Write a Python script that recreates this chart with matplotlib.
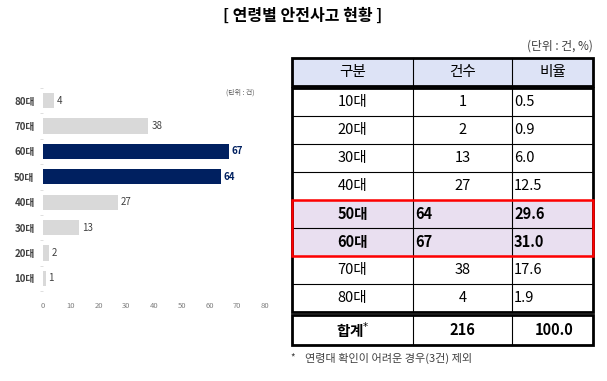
import numpy as np
import matplotlib.pyplot as plt
from matplotlib.patches import Rectangle

plt.rcParams['font.family'] = ['Noto Sans CJK KR', 'DejaVu Sans']

# data
ages = ['10대', '20대', '30대', '40대', '50대', '60대', '70대', '80대']
counts = [1, 2, 13, 27, 64, 67, 38, 4]
ratios = ['0.5', '0.9', '6.0', '12.5', '29.6', '31.0', '17.6', '1.9']
highlight = ['50대', '60대']
total_count = 216
total_ratio = '100.0'
x_ticks = [0, 10, 20, 30, 40, 50, 60, 70, 80]

W, H = 607, 381
fig = plt.figure(figsize=(W / 100, H / 100), dpi=100)

# %% bar chart
ax = fig.add_axes([43 / W, 1 - 291 / H, 222 / W, 203 / H])
y = np.arange(len(ages))
colors = ['#002060' if a in highlight else '#d9d9d9' for a in ages]
ax.barh(y, counts, height=0.6, color=colors)
for yi, c, a in zip(y, counts, ages):
    if a in highlight:
        ax.text(c + 1, yi, str(c), va='center', ha='left', fontsize=7,
                color='#002060', fontweight='bold')
    else:
        ax.text(c + 1, yi, str(c), va='center', ha='left', fontsize=7,
                color='#404040')
ax.set_xlim(0, 80)
ax.set_ylim(-0.5, len(ages) - 0.5)
ax.set_xticks(x_ticks)
ax.set_xticklabels([str(t) for t in x_ticks], fontsize=5.5, color='#7f7f7f')
ax.set_yticks(y)
ax.set_yticklabels(ages, fontsize=7, color='#404040', fontweight='bold')
ax.set_yticks(np.arange(len(ages) + 1) - 0.5, minor=True)
ax.tick_params(axis='y', which='major', length=0, pad=6)
ax.tick_params(axis='y', which='minor', length=2, color='#d9d9d9')
ax.tick_params(axis='x', length=0, pad=8)
for s in ax.spines.values():
    s.set_visible(False)
ax.text(0.89, 0.975, '(단위 : 건)', transform=ax.transAxes, fontsize=5,
        color='#595959', ha='center', va='center')

# %% table
tx = fig.add_axes([0, 0, 1, 1])
tx.set_xlim(0, W)
tx.set_ylim(H, 0)
tx.axis('off')

fig.text(303 / W, 1 - 16 / H, '[ 연령별 안전사고 현황 ]', ha='center', va='center',
         fontsize=11.5, fontweight='bold', color='black')
tx.text(593, 46, '(단위 : 건, %)', ha='right', va='center', fontsize=8.5, color='#404040')

x0, x1, x2, x3 = 292, 413, 512, 593
# header
tx.add_patch(Rectangle((x0, 58), x3 - x0, 28, facecolor='#dde3f6', edgecolor='none'))
for xa, xb, lab in [(x0, x1, '구분'), (x1, x2, '건수'), (x2, x3, '비율')]:
    tx.text((xa + xb) / 2, 72, lab, ha='center', va='center', fontsize=10.5)
tx.add_patch(Rectangle((x0, 58), x3 - x0, 28, facecolor='none', edgecolor='black', lw=2))

row_top = 88
row_h = 28
for i, (a, c, r) in enumerate(zip(ages, counts, ratios)):
    yt = row_top + i * row_h
    yc = yt + row_h / 2
    if a in highlight:
        tx.add_patch(Rectangle((x0, yt), x3 - x0, row_h, facecolor='#e9dff0', edgecolor='none'))
        tx.text((x0 + x1) / 2, yc, a, ha='center', va='center', fontsize=10.5, fontweight='bold')
        tx.text(x1 + 2, yc, str(c), ha='left', va='center', fontsize=10.5, fontweight='bold')
        tx.text(x2 + 2, yc, r, ha='left', va='center', fontsize=10.5, fontweight='bold')
    else:
        tx.text((x0 + x1) / 2, yc, a, ha='center', va='center', fontsize=10.5)
        tx.text((x1 + x2) / 2, yc, str(c), ha='center', va='center', fontsize=10.5)
        tx.text(x2 + 2, yc, r, ha='left', va='center', fontsize=10.5)
    if i > 0:
        tx.plot([x0, x3], [yt, yt], color='black', lw=0.8)
body_bot = row_top + len(ages) * row_h
for xv in (x1, x2):
    tx.plot([xv, xv], [58, body_bot], color='black', lw=0.8)
tx.add_patch(Rectangle((x0, row_top), x3 - x0, body_bot - row_top,
                       facecolor='none', edgecolor='black', lw=2))
hi_idx = [ages.index(a) for a in highlight]
tx.add_patch(Rectangle((x0, row_top + min(hi_idx) * row_h), x3 - x0,
                       len(hi_idx) * row_h, facecolor='none', edgecolor='#ff0000', lw=1.8,
                       zorder=5))

# total row
tt = body_bot + 3
tb = 345
for xv in (x1, x2):
    tx.plot([xv, xv], [tt, tb], color='black', lw=0.8)
tx.add_patch(Rectangle((x0, tt), x3 - x0, tb - tt, facecolor='none', edgecolor='black', lw=2))
tc = (tt + tb) / 2
tx.text((x0 + x1) / 2, tc, '합계$^{*}$', ha='center', va='center', fontsize=10.5, fontweight='bold')
tx.text((x1 + x2) / 2, tc, str(total_count), ha='center', va='center', fontsize=10.5, fontweight='bold')
tx.text((x2 + x3) / 2 + 2, tc, total_ratio, ha='center', va='center', fontsize=10.5, fontweight='bold')

tx.text(290, 358, '*', ha='left', va='center', fontsize=7, color='#404040')
tx.text(305, 358, '연령대 확인이 어려운 경우(3건) 제외', ha='left', va='center',
        fontsize=8, color='#404040')

fig.savefig('out.png', dpi=100, facecolor='white')
